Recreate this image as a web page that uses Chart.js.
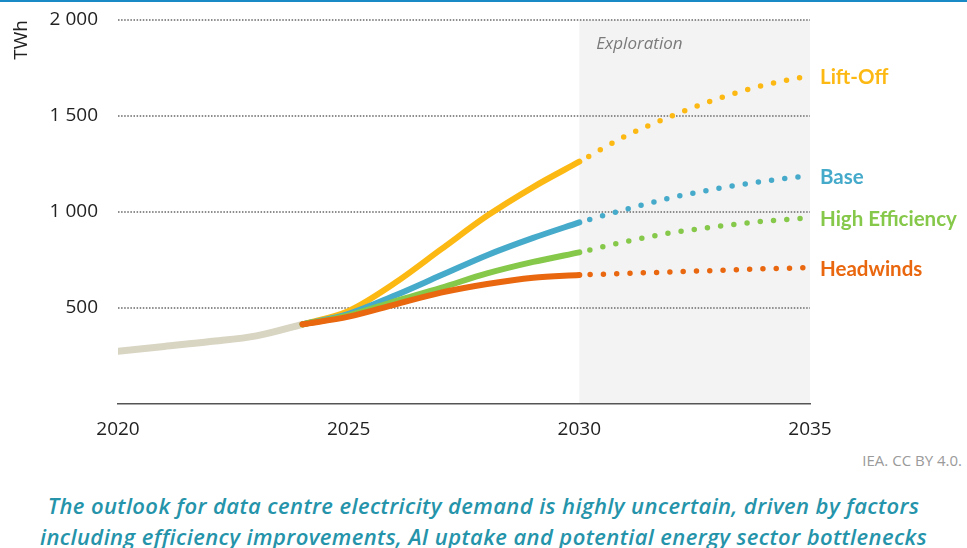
<!DOCTYPE html>
<html>
<head>
<meta charset="utf-8">
<script src="https://cdn.jsdelivr.net/npm/chart.js@4.4.1/dist/chart.umd.min.js"></script>
<style>
  body { margin: 0; background: #fff; width: 967px; height: 548px; overflow: hidden; position: relative; }
  .topbar { position: absolute; left: 0; top: 0; width: 967px; height: 2px; background: #1a8ac6; }
  #wrap { position: absolute; left: 0; top: 0; width: 967px; height: 448px; }
  .source { position: absolute; right: 5px; top: 450px; font: 15px "Open Sans", sans-serif; color: #9a9a9a; }
  .caption { position: absolute; left: 0; width: 967px; top: 490px; text-align: center; letter-spacing: 0.4px;
             font: italic 600 22px "Open Sans", sans-serif; color: #2594aa; line-height: 31px; }
</style>
</head>
<body>
<div class="topbar"></div>
<div id="wrap"><canvas id="graph" width="967" height="448"></canvas></div>
<div class="source">IEA. CC BY 4.0.</div>
<div class="caption">The outlook for data centre electricity demand is highly uncertain, driven by factors<br>including efficiency improvements, AI uptake and potential energy sector bottlenecks</div>
<script>
// years
var histYears = [2020, 2021, 2022, 2023, 2024];
var projYears = [2024, 2025, 2026, 2027, 2028, 2029, 2030];
var explYears = [2030, 2031, 2032, 2033, 2034, 2035];

// TWh
var histDemand = [275, 300, 325, 355, 415];

var liftOff   = [415, 485, 630, 805, 980, 1130, 1262];
var base      = [415, 470, 565, 670, 775, 865, 946];
var highEff   = [415, 462, 535, 605, 680, 740, 790];
var headwinds = [415, 455, 518, 580, 625, 658, 672];

var liftOffExpl   = [1262, 1395, 1500, 1590, 1660, 1710];
var baseExpl      = [946, 1013, 1075, 1122, 1160, 1190];
var highEffExpl   = [790, 845, 892, 925, 952, 970];
var headwindsExpl = [672, 680, 688, 696, 704, 710];

var scenarioNames = ['Lift-Off', 'Base', 'High Efficiency', 'Headwinds'];
var yTicks = [500, 1000, 1500, 2000];

var yellow = '#fdb913';
var blue   = '#46aacb';
var green  = '#86c84a';
var orange = '#e9670f';
var grey   = '#d9d5c3';

function pts(xs, ys) {
  return xs.map(function (x, i) { return { x: x, y: ys[i] }; });
}

function solid(name, xs, ys, c, w) {
  return {
    label: name,
    data: pts(xs, ys),
    borderColor: c,
    borderWidth: w || 6,
    borderCapStyle: 'round',
    pointRadius: 0,
    cubicInterpolationMode: 'monotone',
    fill: false
  };
}

function dotted(name, xs, ys, c) {
  return {
    label: name,
    data: pts(xs, ys),
    borderColor: c,
    borderWidth: 5.5,
    borderCapStyle: 'round',
    borderDash: [0, 13.3],
    borderDashOffset: 2.5,
    pointRadius: 0,
    cubicInterpolationMode: 'monotone',
    fill: false,
    endLabel: true
  };
}

// grey band behind the 2030-2035 exploration period
var explorationBand = {
  id: 'explorationBand',
  beforeDraw: function (chart) {
    var c = chart.ctx, x = chart.scales.x, y = chart.scales.y;
    var x0 = x.getPixelForValue(2030), x1 = x.getPixelForValue(2035);
    var top = y.getPixelForValue(2000), bottom = y.getPixelForValue(0);
    c.save();
    c.fillStyle = '#f3f3f3';
    c.fillRect(x0, top, x1 - x0, bottom - top);
    c.fillStyle = '#7a7a7a';
    c.font = 'italic 17px "Open Sans", sans-serif';
    c.textBaseline = 'middle';
    c.fillText('Exploration', x0 + 17, top + 24);
    // unit label
    c.translate(22, 40);
    c.rotate(-Math.PI / 2);
    c.textAlign = 'center';
    c.fillStyle = '#222';
    c.font = '19px "Open Sans", sans-serif';
    c.fillText('TWh', 0, 0);
    c.restore();
  }
};

// scenario names at the end of each exploration line
var endLabels = {
  id: 'endLabels',
  afterDatasetsDraw: function (chart) {
    var c = chart.ctx, x = chart.scales.x, y = chart.scales.y;
    c.save();
    c.font = 'bold 20.5px Lato, sans-serif';
    c.textBaseline = 'middle';
    chart.data.datasets.forEach(function (ds) {
      if (!ds.endLabel) return;
      var last = ds.data[ds.data.length - 1];
      c.fillStyle = ds.borderColor;
      c.fillText(ds.label, x.getPixelForValue(last.x) + 10, y.getPixelForValue(last.y) + 2);
    });
    c.restore();
  }
};

new Chart(document.getElementById('graph'), {
  type: 'line',
  plugins: [explorationBand, endLabels],
  data: {
    datasets: [
      solid(scenarioNames[3], projYears, headwinds, orange),
      solid(scenarioNames[2], projYears, highEff, green),
      solid(scenarioNames[1], projYears, base, blue),
      solid(scenarioNames[0], projYears, liftOff, yellow),
      solid('History', histYears, histDemand, grey, 7),
      dotted(scenarioNames[0], explYears, liftOffExpl, yellow),
      dotted(scenarioNames[1], explYears, baseExpl, blue),
      dotted(scenarioNames[2], explYears, highEffExpl, green),
      dotted(scenarioNames[3], explYears, headwindsExpl, orange)
    ]
  },
  options: {
    responsive: false,
    animation: false,
    layout: { padding: { top: 20, right: 157, left: 0, bottom: 0 } },
    scales: {
      x: {
        type: 'linear',
        min: 2020,
        max: 2035,
        afterFit: function (s) { s.height = 44; },
        ticks: {
          stepSize: 5,
          padding: 14,
          color: '#222',
          font: { family: '"Open Sans", sans-serif', size: 19 },
          callback: function (v) { return String(v); }
        },
        grid: { display: false, drawTicks: false },
        border: { display: true, color: '#555', width: 1.5 }
      },
      y: {
        min: 0,
        max: 2000,
        afterFit: function (s) { s.width = 118; s.paddingTop = 0; s.paddingBottom = 0; },
        afterBuildTicks: function (s) {
          s.ticks = [{ value: 0 }].concat(yTicks.map(function (v) { return { value: v }; }));
        },
        ticks: {
          padding: 20,
          color: '#222',
          font: { family: '"Open Sans", sans-serif', size: 19 },
          callback: function (v) {
            if (v === 0) return '';
            return String(v).replace(/\B(?=(\d{3})+(?!\d))/g, ' ');
          }
        },
        grid: {
          drawTicks: false,
          lineWidth: 2,
          color: function (ctx) { return ctx.tick && ctx.tick.value === 0 ? 'rgba(0,0,0,0)' : '#8c8c8c'; }
        },
        border: { display: false, dash: [1.5, 1.6] }
      }
    },
    plugins: {
      legend: { display: false },
      tooltip: { enabled: false }
    }
  }
});
</script>
</body>
</html>
